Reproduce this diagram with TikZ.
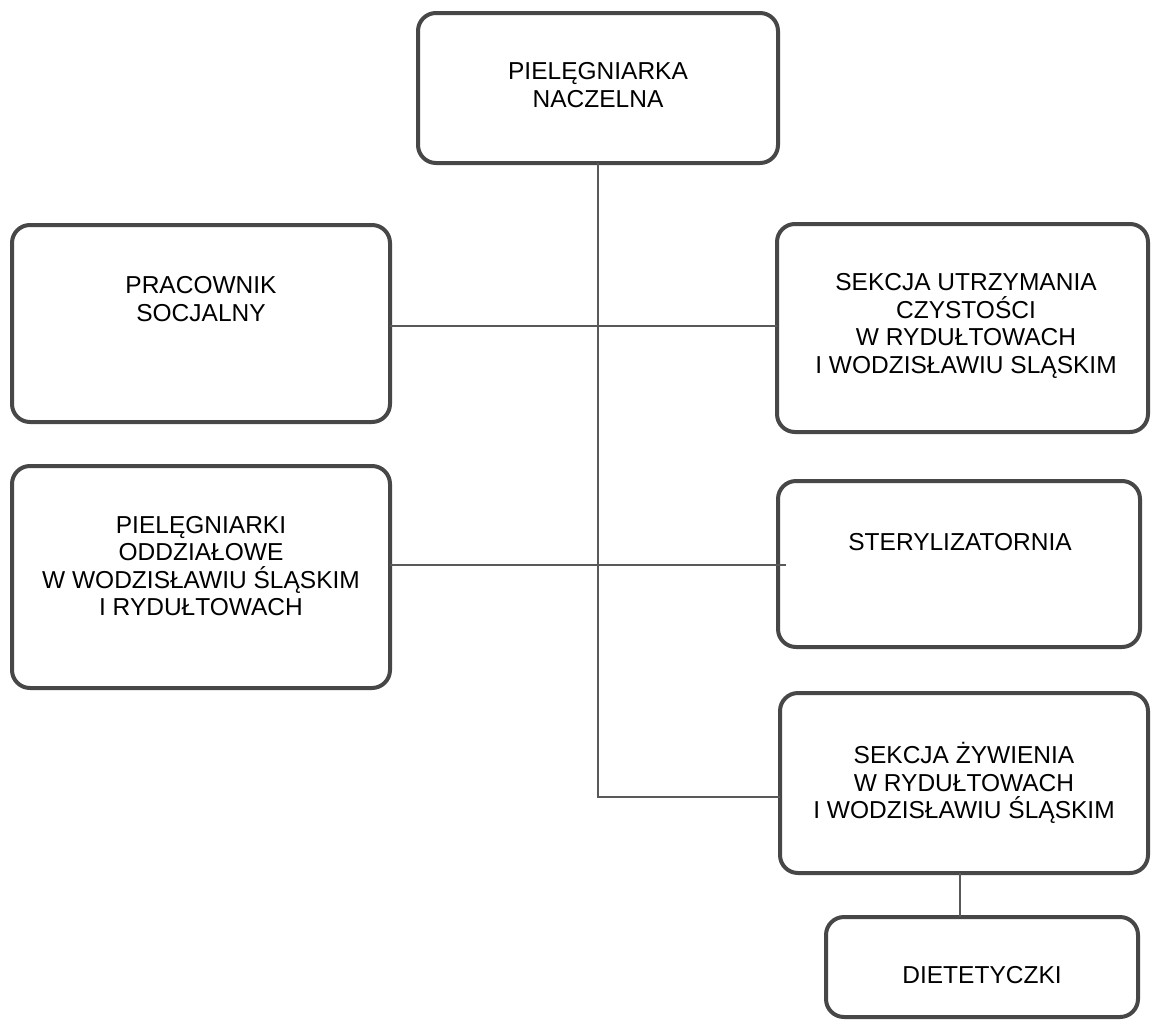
\documentclass[tikz,border=0pt]{standalone}
\usepackage{fontspec}
\setmainfont{Liberation Sans}
\begin{document}
\begin{tikzpicture}[x=1pt,y=-1pt,
  orgbox/.style={draw=black!72, line width=4pt, rounded corners=18pt,
    rectangle, inner sep=0pt, outer sep=0pt, fill=white},
  orgtext/.style={align=center, text=black,
    font=\fontsize{24.5}{27.5}\selectfont},
  link/.style={draw=black!65, line width=1.5pt}]
\useasboundingbox[fill=white] (0,0) rectangle (1151,1020);

% boxes: centre, width x height
\node[orgbox, minimum width=360pt, minimum height=150pt] (b1) at (598,88) {};
\node[orgbox, minimum width=378pt, minimum height=197pt] (b2) at (201,323.5) {};
\node[orgbox, minimum width=371pt, minimum height=208pt] (b3) at (962.5,328) {};
\node[orgbox, minimum width=378pt, minimum height=222pt] (b4) at (201,577) {};
\node[orgbox, minimum width=362pt, minimum height=166pt] (b5) at (959,564) {};
\node[orgbox, minimum width=368pt, minimum height=180pt] (b6) at (964,783) {};
\node[orgbox, minimum width=312pt, minimum height=100pt] (b7) at (982,967) {};

% connectors
\coordinate (trunk) at (598,797);
\coordinate (j1) at (598,326);
\coordinate (j2) at (598,565);
\draw[link] (b1.south) -- (trunk) -- (trunk -| b6.west);
\draw[link] (b2.east |- j1) -- (b3.west |- j1);
\draw[link] (b4.east |- j2) -- ([xshift=8pt]b5.west |- j2);
\draw[link] (b6.south -| 960,0) -- (b7.north -| 960,0);

% labels
\node[orgtext] (t1) at (598,85) {PIELĘGNIARKA\\NACZELNA};
\node[orgtext] (t2) at (201,299) {PRACOWNIK\\SOCJALNY};
\node[orgtext] (t3) at (966,326) {SEKCJA UTRZYMANIA\\CZYSTOŚCI\\W RYDUŁTOWACH\\I WODZISŁAWIU SLĄSKIM};
\node[orgtext] (t4) at (201,566) {PIELĘGNIARKI\\ODDZIAŁOWE\\W WODZISŁAWIU ŚLĄSKIM\\I RYDUŁTOWACH};
\node[orgtext] (t5) at (960,542) {STERYLIZATORNIA};
\node[orgtext] (t6) at (964,783) {SEKCJA ŻYWIENIA\\W RYDUŁTOWACH\\I WODZISŁAWIU ŚLĄSKIM};
\node[orgtext] (t7) at (982,975) {DIETETYCZKI};
\end{tikzpicture}
\end{document}
